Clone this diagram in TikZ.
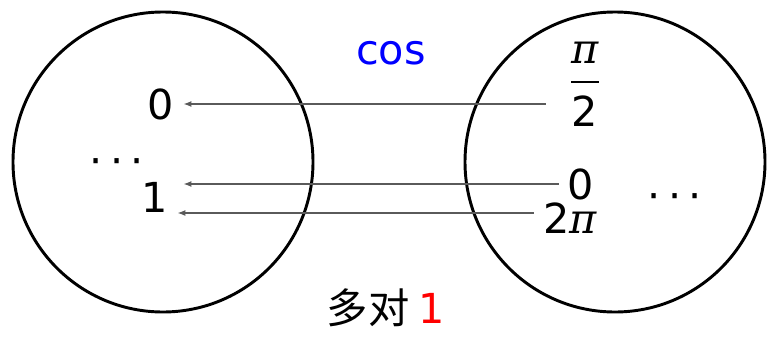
\documentclass[tikz,border=0pt]{standalone}
\usepackage{fontspec}
\setmainfont{DejaVu Sans}
\newfontfamily\grk{DejaVu Serif}
\newfontfamily\cjk{Noto Sans CJK SC}
\usetikzlibrary{arrows.meta}
\definecolor{MapLine}{RGB}{90,90,90}
\definecolor{CosBlue}{RGB}{0,0,255}
\definecolor{CntRed} {RGB}{255,0,0}
\tikzset{
  nd_set/.style={
    circle, draw=black, line width=2.2pt,
    minimum size=225pt, inner sep=0pt},
  nd_lbl/.style={
    inner sep=1pt, outer sep=6pt, font=\fontsize{31}{37}\selectfont},
  arr/.style={-{Latex[length=6pt,width=4.5pt]},draw=MapLine,line width=0.9pt},
}
\newcommand{\threedots}{·\kern5.5pt·\kern5.5pt·}

\begin{document}
\begin{tikzpicture}[x=0.75pt,y=-0.75pt]
\useasboundingbox (0,0) rectangle (767,336);

%% the two sets
\node[nd_set] (dom) at (163,162) {};
\node[nd_set] (cod) at (615,162) {};

%% function name
\node[nd_lbl, text=CosBlue] (fn) at (391,53) {cos};

%% left set
\node[nd_lbl] (lzero) at (161,104) {0};
\node[nd_lbl] (ldots) at (117,167) {\threedots};
\node[nd_lbl] (lone)  at (155,197) {1};

%% right set
\node[nd_lbl, align=center] (rhalf) at (585,84)
  {{\grk\itshape π}\\[-22pt]\rule{21pt}{1.5pt}\\[-5pt]2};
\node[nd_lbl] (rzero) at (581,184) {0};
\node[nd_lbl] (r2pi)  at (570,218) {2{\grk\itshape π}};
\node[nd_lbl] (rdots) at (675,202) {\threedots};

%% caption
\node[nd_lbl, inner sep=0pt] (cap) at (386,308) {{\cjk 多对}\kern7pt\textcolor{CntRed}{1}};

%% arrows
\draw[arr, shorten <=12pt] (rhalf.west |- lzero.center) -- (lzero);
\draw[arr, shorten >=4.5pt] (rzero) -- (rzero -| lone.east);
\draw[arr] ([yshift=3.75pt]r2pi.west) -- ([yshift=3.75pt]r2pi.west -| lone.east);

\end{tikzpicture}
\end{document}
